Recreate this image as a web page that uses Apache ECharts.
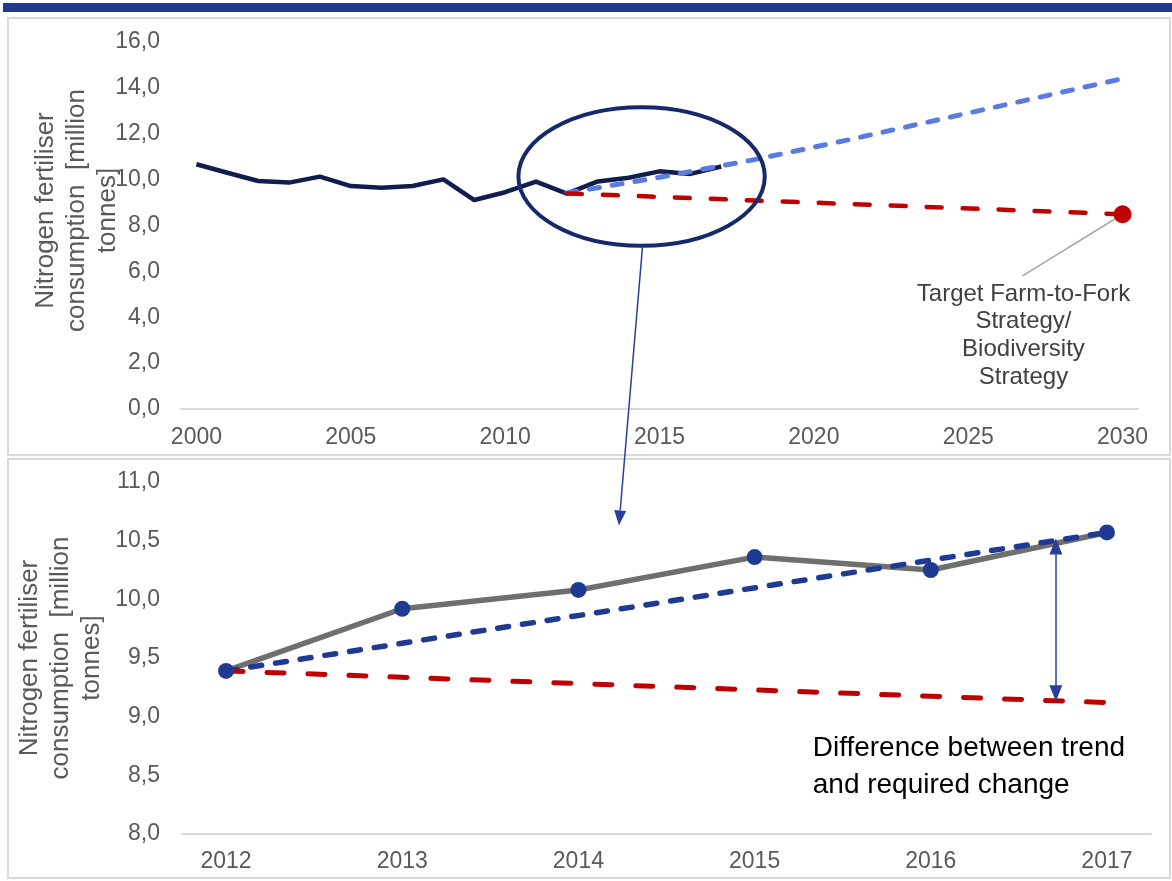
<!DOCTYPE html>
<html>
<head>
<meta charset="utf-8">
<script src="https://cdn.jsdelivr.net/npm/echarts@6/dist/echarts.min.js"></script>
<style>
html,body{margin:0;padding:0;background:#fff;}
#chart{width:1172px;height:881px;}
</style>
</head>
<body>
<div id="chart"></div>
<script>
// ---- data ----
const histYears = [2000,2001,2002,2003,2004,2005,2006,2007,2008,2009,2010,2011,2012,2013,2014,2015,2016,2017];
const histValues = [10.67,10.30,9.94,9.87,10.13,9.72,9.65,9.72,10.01,9.11,9.45,9.91,9.39,9.92,10.08,10.36,10.25,10.57];
const trendYearsTop = [2012,2015,2018,2021,2024,2027,2030];
const trendValuesTop = [9.42,10.10,10.85,11.70,12.60,13.50,14.40];
const targetYearsTop = [2012,2030];
const targetValuesTop = [9.40,8.49];
const topXTicks = [2000,2005,2010,2015,2020,2025,2030];

const zoomYears = [2012,2013,2014,2015,2016,2017];
const zoomValues = [9.39,9.92,10.08,10.36,10.25,10.57];
const zoomTrendYears = [2012,2017];
const zoomTrendValues = [9.39,10.57];
const zoomTargetYears = [2012,2017];
const zoomTargetValues = [9.39,9.12];
const gapArrowYear = 2016.71;
const gapArrowValues = [9.20,10.45];

const yTitle = 'Nitrogen fertiliser\nconsumption  [million\ntonnes]';
const targetText = 'Target Farm-to-Fork\nStrategy/\nBiodiversity\nStrategy';
const diffText = 'Difference between trend\nand required change';

const zip = (xs, ys) => xs.map((x, i) => [x, ys[i]]);
const fmt = v => v.toFixed(1).replace('.', ',');
const FONT = "'Liberation Sans', Arial, sans-serif";
const labelStyle = {color:'#595959', fontSize:23, fontFamily:FONT};

const chart = echarts.init(document.getElementById('chart'), null, {renderer:'canvas'});

const option = {
  animation:false,
  backgroundColor:'#ffffff',
  grid:[
    {left:181, top:42, width:957, height:367},
    {left:182, top:482, width:969, height:352}
  ],
  xAxis:[
    {gridIndex:0, type:'value', min:1999.5, max:2030.5,
     axisLine:{show:true, lineStyle:{color:'#d9d9d9', width:2}},
     axisTick:{show:false},
     splitLine:{show:false},
     axisLabel:Object.assign({customValues:topXTicks, margin:17, formatter:v=>String(v)}, labelStyle)},
    {gridIndex:1, type:'value', min:2011.75, max:2017.25,
     axisLine:{show:true, lineStyle:{color:'#d9d9d9', width:2}},
     axisTick:{show:false},
     splitLine:{show:false},
     axisLabel:Object.assign({customValues:zoomYears, margin:16, formatter:v=>String(v)}, labelStyle)}
  ],
  yAxis:[
    {gridIndex:0, type:'value', min:0, max:16, interval:2,
     axisLine:{show:false}, axisTick:{show:false}, splitLine:{show:false},
     axisLabel:Object.assign({margin:21, formatter:fmt}, labelStyle)},
    {gridIndex:1, type:'value', min:8, max:11, interval:0.5,
     axisLine:{show:false}, axisTick:{show:false}, splitLine:{show:false},
     axisLabel:Object.assign({margin:22, formatter:fmt}, labelStyle)}
  ],
  series:[
    {name:'history', type:'line', xAxisIndex:0, yAxisIndex:0, data:zip(histYears, histValues),
     showSymbol:false, symbol:'none', lineStyle:{color:'#111d4e', width:4.5, join:'round'}, z:2, silent:true},
    {name:'trendTop', type:'line', xAxisIndex:0, yAxisIndex:0, data:zip(trendYearsTop, trendValuesTop),
     showSymbol:false, symbol:'none', lineStyle:{color:'#5b7be0', width:5, type:[10,13], cap:'round'}, z:3, silent:true},
    {name:'targetTop', type:'line', xAxisIndex:0, yAxisIndex:0, data:zip(targetYearsTop, targetValuesTop),
     showSymbol:false, symbol:'none', lineStyle:{color:'#c00000', width:4.5, type:[15,21], cap:'round'}, z:4, silent:true,
     markLine:{silent:true, symbol:['none','none'], label:{show:false},
       lineStyle:{color:'#a6a6a6', width:1.5, type:'solid'},
       data:[[{coord:[2030, 8.49]},{coord:[2026.76, 5.80]}]]}},
    {name:'targetPoint', type:'scatter', xAxisIndex:0, yAxisIndex:0, data:[[targetYearsTop[1], targetValuesTop[1]]],
     symbolSize:18, itemStyle:{color:'#c00000', opacity:1}, z:5, silent:true},

    {name:'zoomActual', type:'line', xAxisIndex:1, yAxisIndex:1, data:zip(zoomYears, zoomValues),
     showSymbol:false, symbol:'none', lineStyle:{color:'#6f6f6f', width:5.5, join:'round'}, z:2, silent:true},
    {name:'zoomTrend', type:'line', xAxisIndex:1, yAxisIndex:1, data:zip(zoomTrendYears, zoomTrendValues),
     showSymbol:false, symbol:'none', lineStyle:{color:'#1f3a93', width:5.5, type:[11,14], cap:'round'}, z:3, silent:true},
    {name:'zoomTarget', type:'line', xAxisIndex:1, yAxisIndex:1, data:zip(zoomTargetYears, zoomTargetValues),
     showSymbol:false, symbol:'none', lineStyle:{color:'#c00000', width:5, type:[17,24], cap:'round'}, z:4, silent:true},
    {name:'zoomPoints', type:'scatter', xAxisIndex:1, yAxisIndex:1, data:zip(zoomYears, zoomValues),
     symbolSize:16, itemStyle:{color:'#1f3a93', opacity:1}, z:6, silent:true,
     markLine:{silent:true, symbol:['triangle','triangle'], symbolSize:[13,16], label:{show:false},
       lineStyle:{color:'#2a3f9a', width:1.5, type:'solid'},
       itemStyle:{color:'#2a3f9a'},
       data:[[{coord:[gapArrowYear, gapArrowValues[0]]},{coord:[gapArrowYear, gapArrowValues[1]]}]]}}
  ]
};
chart.setOption(option);

// ---- annotations positioned via the chart's own scales ----
const p0 = d => chart.convertToPixel({gridIndex:0}, d);
const p1 = d => chart.convertToPixel({gridIndex:1}, d);

const ec = p0([2014.42, 10.14]);
const ex = p0([2014.42 + 3.99, 10.14]);
const ey = p0([2014.42, 10.14 - 3.02]);
const rx = ex[0] - ec[0], ry = ey[1] - ec[1];

const aStart = [ec[0] + 1, ec[1] + ry];
const aEnd = p1([2014.23, 10.63]);
const ang = Math.atan2(aEnd[1] - aStart[1], aEnd[0] - aStart[0]);
const hl = 15, hw = 6;
const base = [aEnd[0] - hl * Math.cos(ang), aEnd[1] - hl * Math.sin(ang)];
const nx = -Math.sin(ang), ny = Math.cos(ang);

const tPos = p0([2026.79, 5.62]);
const dPos = p1([2015.33, 8.89]);

const titleTop = [77, (p0([0,16])[1] + p0([0,0])[1]) / 2 - 15];
const titleBot = [61, (p1([2012,11])[1] + p1([2012,8])[1]) / 2];

chart.setOption({
  graphic:[
    {type:'rect', shape:{x:3, y:3, width:1169, height:9}, style:{fill:'#1f3993'}, silent:true, z:0},
    {type:'rect', shape:{x:8, y:18, width:1162, height:437}, style:{fill:'none', stroke:'#d9d9d9', lineWidth:2}, silent:true, z:0},
    {type:'rect', shape:{x:8, y:459, width:1162, height:419}, style:{fill:'none', stroke:'#d9d9d9', lineWidth:2}, silent:true, z:0},
    {type:'text', x:titleTop[0], y:titleTop[1], rotation:Math.PI/2, silent:true, z:10,
     style:{text:yTitle, fill:'#595959', font:'26px ' + FONT, lineHeight:31, align:'center', verticalAlign:'middle'}},
    {type:'text', x:titleBot[0], y:titleBot[1], rotation:Math.PI/2, silent:true, z:10,
     style:{text:yTitle, fill:'#595959', font:'26px ' + FONT, lineHeight:31, align:'center', verticalAlign:'middle'}},
    {type:'ellipse', shape:{cx:ec[0], cy:ec[1], rx:rx, ry:ry}, style:{fill:'none', stroke:'#15296b', lineWidth:4}, silent:true, z:20},
    {type:'line', shape:{x1:aStart[0], y1:aStart[1], x2:base[0], y2:base[1]}, style:{stroke:'#2a3f9a', lineWidth:1.5}, silent:true, z:20},
    {type:'polygon', shape:{points:[[aEnd[0], aEnd[1]], [base[0] + nx*hw, base[1] + ny*hw], [base[0] - nx*hw, base[1] - ny*hw]]},
     style:{fill:'#2a3f9a'}, silent:true, z:20},
    {type:'text', x:tPos[0], y:tPos[1], silent:true, z:20,
     style:{text:targetText, fill:'#404040', font:'24px ' + FONT, lineHeight:27.7, align:'center', verticalAlign:'top'}},
    {type:'text', x:dPos[0], y:dPos[1], silent:true, z:20,
     style:{text:diffText, fill:'#000000', font:'28px ' + FONT, lineHeight:37, align:'left', verticalAlign:'top'}}
  ]
});
</script>
</body>
</html>
